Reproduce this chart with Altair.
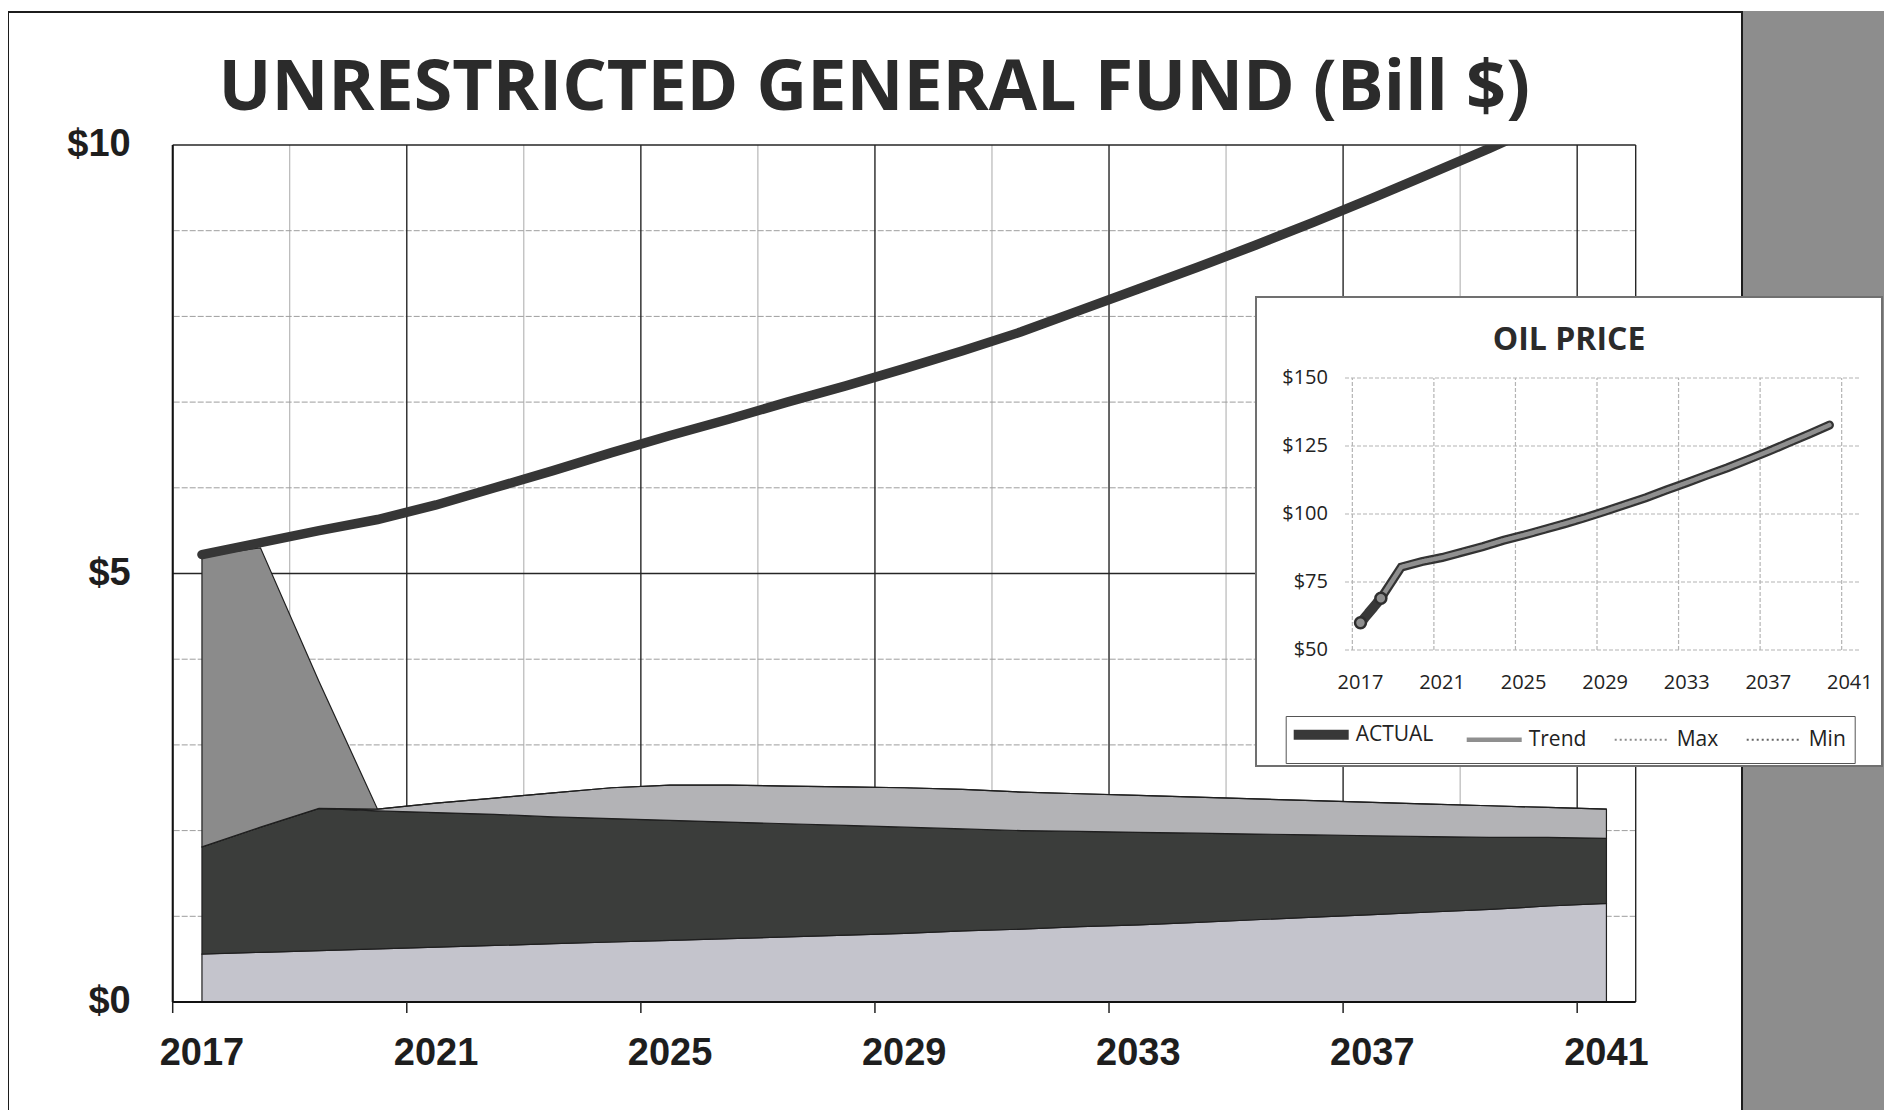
import altair as alt
import pandas as pd

# ---------------- data ----------------
years = [2017, 2018, 2019, 2020, 2021, 2022, 2023, 2024, 2025, 2026, 2027, 2028, 2029,
         2030, 2031, 2032, 2033, 2034, 2035, 2036, 2037, 2038, 2039, 2040, 2041]

# stacked bands (Bill $), bottom to top
band_base = [0.56, 0.58, 0.60, 0.62, 0.64, 0.66, 0.68, 0.70, 0.72, 0.74, 0.76, 0.78, 0.80,
             0.83, 0.85, 0.88, 0.90, 0.93, 0.96, 0.99, 1.02, 1.05, 1.08, 1.12, 1.15]
band_core = [1.25, 1.46, 1.66, 1.61, 1.57, 1.53, 1.48, 1.44, 1.40, 1.36, 1.32, 1.28, 1.24,
             1.19, 1.15, 1.11, 1.08, 1.04, 1.00, 0.96, 0.92, 0.88, 0.84, 0.80, 0.76]
band_upper = [0.00, 0.00, 0.00, 0.02, 0.11, 0.19, 0.28, 0.36, 0.41, 0.43, 0.44, 0.45, 0.46,
              0.46, 0.45, 0.44, 0.43, 0.42, 0.41, 0.40, 0.39, 0.38, 0.37, 0.35, 0.34]
band_early = [3.39, 3.26, 1.48, 0.00, 0.00, 0.00, 0.00, 0.00, 0.00, 0.00, 0.00, 0.00, 0.00,
              0.00, 0.00, 0.00, 0.00, 0.00, 0.00, 0.00, 0.00, 0.00, 0.00, 0.00, 0.00]
band_names = ["Band 1", "Band 2", "Band 3", "Band 4"]
band_colors = ["#c4c4cc", "#3b3d3b", "#b3b3b6", "#8b8b8b"]

# total line (Bill $)
total_line = [5.22, 5.36, 5.50, 5.63, 5.80, 6.00, 6.20, 6.41, 6.61, 6.80, 7.00, 7.19, 7.39,
              7.60, 7.82, 8.07, 8.32, 8.57, 8.83, 9.10, 9.38, 9.67, 9.96, 10.27, 10.58]

main_title = "UNRESTRICTED GENERAL FUND (Bill $)"
x_label_years = [2017, 2021, 2025, 2029, 2033, 2037, 2041]
y_label_values = [0, 5, 10]

# inset: oil price
inset_title = "OIL PRICE"
oil_actual_years = [2017, 2018]
oil_actual = [60, 69]
oil_trend_years = [2018, 2019, 2020, 2021, 2022, 2023, 2024, 2025, 2026, 2027, 2028, 2029,
                   2030, 2031, 2032, 2033, 2034, 2035, 2036, 2037, 2038, 2039, 2040]
oil_trend = [69, 80.5, 82.5, 84, 86, 88, 90.3, 92.2, 94.3, 96.4, 98.6, 101,
             103.5, 106, 108.8, 111.5, 114.3, 117, 120, 123, 126.2, 129.4, 132.7]
oil_series = ["ACTUAL", "Trend", "Max", "Min"]
oil_colors = ["#383838", "#8f8f8f", "#8a8a8a", "#666666"]
oil_dashes = [[1, 0], [1, 0], [2, 3], [2, 3]]
oil_widths = [10, 4.5, 2, 2]
inset_x_labels = [2017, 2021, 2025, 2029, 2033, 2037, 2041]
inset_y_labels = [50, 75, 100, 125, 150]

# ---------------- tables ----------------
rows = []
for order, (name, vals) in enumerate(zip(band_names, [band_base, band_core, band_upper, band_early])):
    for yr, v in zip(years, vals):
        rows.append({"year": yr, "band": name, "value": v, "order": order})
bands_df = pd.DataFrame(rows)
line_df = pd.DataFrame({"year": years, "total": total_line})
oil_df = pd.concat([
    pd.DataFrame({"year": oil_actual_years, "price": oil_actual, "series": "ACTUAL"}),
    pd.DataFrame({"year": oil_trend_years, "price": oil_trend, "series": "Trend"}),
], ignore_index=True)
one = pd.DataFrame({"k": [0]})

# grid / tick positions (category boundaries: every 2 years, darker every 4)
vgrid_major = [2016.5, 2020.5, 2024.5, 2028.5, 2032.5, 2036.5, 2040.5, 2041.5]
vgrid_minor = [2018.5, 2022.5, 2026.5, 2030.5, 2034.5, 2038.5]
hgrid_major = [5, 10]
hgrid_minor = [1, 2, 3, 4, 6, 7, 8, 9]
x_ticks = [v - 0.5 for v in x_label_years]
inset_vgrid = [v - 0.4 for v in inset_x_labels]

# ---------------- layout ----------------
W, H = 1463, 857
LABEL_FONT = "Liberation Sans"
INSET_FONT = "Open Sans"

main_x = alt.Scale(domain=[2016.5, 2041.5], nice=False, zero=False)
main_y = alt.Scale(domain=[0, 10], nice=False)
inset_x = alt.Scale(domain=[2016.24, 2041.45], range=[1172.3, 1686.3], nice=False, zero=False)
inset_y = alt.Scale(domain=[50, 150], range=[505, 233], nice=False, zero=False)
INSET_LEFT, INSET_BOTTOM = 1172.3, 505

# ---------------- main chart ----------------
surround = alt.Chart(one).mark_rect(fill="#8d8d8d").encode(
    x=alt.value(1569.3), x2=alt.value(1720), y=alt.value(-134), y2=alt.value(1000))
page_edge = alt.Chart(one).mark_rect(fill=None, stroke="#1c1c1c", strokeWidth=2).encode(
    x=alt.value(-164.7), x2=alt.value(1569.3), y=alt.value(-133), y2=alt.value(967))

vminor = alt.Chart(pd.DataFrame({"gx": vgrid_minor})).mark_rule(color="#a9a9a9", strokeWidth=1).encode(
    x=alt.X("gx:Q", scale=main_x, axis=None))
hminor = alt.Chart(pd.DataFrame({"gy": hgrid_minor})).mark_rule(
    color="#9d9d9d", strokeWidth=1, strokeDash=[6, 2]).encode(
    y=alt.Y("gy:Q", scale=main_y, axis=None))
vmajor = alt.Chart(pd.DataFrame({"gx": vgrid_major})).mark_rule(color="#262626", strokeWidth=1.4).encode(
    x=alt.X("gx:Q", scale=main_x, axis=None))
hmajor = alt.Chart(pd.DataFrame({"gy": hgrid_major})).mark_rule(color="#262626", strokeWidth=1.4).encode(
    y=alt.Y("gy:Q", scale=main_y, axis=None))

areas = alt.Chart(bands_df).mark_area(stroke="#1f1f1f", strokeWidth=1.2, opacity=1).encode(
    x=alt.X("year:Q", scale=main_x, axis=None),
    y=alt.Y("value:Q", stack="zero", scale=main_y, axis=None),
    fill=alt.Fill("band:N", scale=alt.Scale(domain=band_names, range=band_colors), legend=None),
    order=alt.Order("order:Q"),
)

# axis lines, ticks and tick labels
x_domain = alt.Chart(pd.DataFrame({"gy": [0]})).mark_rule(color="#111111", strokeWidth=2.2).encode(
    y=alt.Y("gy:Q", scale=main_y, axis=None))
y_domain = alt.Chart(pd.DataFrame({"gx": [2016.5]})).mark_rule(color="#111111", strokeWidth=2).encode(
    x=alt.X("gx:Q", scale=main_x, axis=None))
x_tick_marks = alt.Chart(pd.DataFrame({"t": x_ticks})).mark_rule(color="#222222", strokeWidth=1.5).encode(
    x=alt.X("t:Q", scale=main_x, axis=None), y=alt.value(H), y2=alt.value(H + 11))
x_tick_labels = alt.Chart(pd.DataFrame({"yr": x_label_years})).mark_text(
    font=LABEL_FONT, fontWeight="bold", fontSize=38, color="#1e1e1e", baseline="top", align="center").encode(
    x=alt.X("yr:Q", scale=main_x, axis=None), y=alt.value(H + 33), text=alt.Text("yr:Q", format="d"))
y_tick_labels = alt.Chart(pd.DataFrame({"v": y_label_values})).transform_calculate(
    lbl="'$' + datum.v").mark_text(
    font=LABEL_FONT, fontWeight="bold", fontSize=38, color="#1e1e1e", baseline="middle", align="right").encode(
    y=alt.Y("v:Q", scale=main_y, axis=None), x=alt.value(-42), text="lbl:N")

total = alt.Chart(line_df).mark_line(color="#363636", strokeWidth=9.5, strokeCap="round", clip=True).encode(
    x=alt.X("year:Q", scale=main_x, axis=None),
    y=alt.Y("total:Q", scale=main_y, axis=None),
)

main = alt.layer(surround, page_edge, vminor, hminor, vmajor, hmajor, areas,
                 x_domain, y_domain, x_tick_marks, x_tick_labels, y_tick_labels, total)

# ---------------- inset chart ----------------
box = alt.Chart(one).mark_rect(fill="white", stroke="#707070", strokeWidth=2).encode(
    x=alt.value(1083.3), x2=alt.value(1709.3), y=alt.value(152), y2=alt.value(621))
ititle = alt.Chart(one).mark_text(text=inset_title, font=INSET_FONT, fontSize=32, fontWeight="bold",
                                  color="#2b2b2b", baseline="alphabetic", align="center").encode(
    x=alt.value(1396.3), y=alt.value(204.5))

ivgrid = alt.Chart(pd.DataFrame({"gx": inset_vgrid})).mark_rule(
    color="#b4b4b4", strokeWidth=1.2, strokeDash=[4, 2]).encode(
    x=alt.X("gx:Q", scale=inset_x, axis=None),
    y=alt.YDatum(50, axis=None), y2=alt.Y2Datum(150))
ihgrid = alt.Chart(pd.DataFrame({"gy": inset_y_labels})).mark_rule(
    color="#b4b4b4", strokeWidth=1.2, strokeDash=[4, 2]).encode(
    y=alt.Y("gy:Q", scale=inset_y, axis=None),
    x=alt.XDatum(2016.24, axis=None), x2=alt.X2Datum(2041.45))

ix_labels = alt.Chart(pd.DataFrame({"yr": inset_x_labels})).mark_text(
    font=INSET_FONT, fontSize=20, color="#222222", baseline="top", align="center").encode(
    x=alt.X("yr:Q", scale=inset_x, axis=None), y=alt.value(INSET_BOTTOM + 23),
    text=alt.Text("yr:Q", format="d"))
iy_labels = alt.Chart(pd.DataFrame({"v": inset_y_labels})).transform_calculate(
    lbl="'$' + datum.v").mark_text(
    font=INSET_FONT, fontSize=20, color="#222222", baseline="middle", align="right").encode(
    y=alt.Y("v:Q", scale=inset_y, axis=None), x=alt.value(INSET_LEFT - 17), text="lbl:N")

series_legend = alt.Legend(title=None, orient="none", legendX=1113, legendY=571,
                           direction="horizontal", symbolType="M-5.5,0H5.5", symbolSize=100,
                           symbolOffset=17, labelOffset=24, columnPadding=24, padding=8,
                           labelFont=INSET_FONT, labelFontSize=21, labelColor="#222222",
                           strokeColor="#555555", fillColor="white", zindex=1)
color_enc = alt.Color("series:N", scale=alt.Scale(domain=oil_series, range=oil_colors), legend=series_legend)
dash_enc = alt.StrokeDash("series:N", scale=alt.Scale(domain=oil_series, range=oil_dashes), legend=series_legend)
width_enc = alt.StrokeWidth("series:N", scale=alt.Scale(type="ordinal", domain=oil_series, range=oil_widths),
                            legend=series_legend)

oil_base = alt.Chart(oil_df)
trend_outline = oil_base.transform_filter("datum.series == 'Trend'").mark_line(
    color="#333333", strokeWidth=9, strokeCap="round").encode(
    x=alt.X("year:Q", scale=inset_x, axis=None),
    y=alt.Y("price:Q", scale=inset_y, axis=None),
)
trend_inner = oil_base.transform_filter("datum.series == 'Trend'").mark_line(strokeCap="round").encode(
    x=alt.X("year:Q", scale=inset_x, axis=None),
    y=alt.Y("price:Q", scale=inset_y, axis=None),
    color=color_enc, strokeDash=dash_enc, strokeWidth=width_enc,
)
actual_line = oil_base.transform_filter("datum.series == 'ACTUAL'").mark_line(strokeCap="round").encode(
    x=alt.X("year:Q", scale=inset_x, axis=None),
    y=alt.Y("price:Q", scale=inset_y, axis=None),
    color=color_enc, strokeDash=dash_enc, strokeWidth=width_enc,
)
actual_pts = oil_base.transform_filter("datum.series == 'ACTUAL'").mark_point(
    filled=True, fill="#8e8e8e", stroke="#2f2f2f", strokeWidth=2.5, size=120, opacity=1).encode(
    x=alt.X("year:Q", scale=inset_x, axis=None),
    y=alt.Y("price:Q", scale=inset_y, axis=None),
)

inset = alt.layer(box, ititle, ivgrid, ihgrid, ix_labels, iy_labels,
                  trend_outline, trend_inner, actual_line, actual_pts)

chart = alt.layer(main, inset).resolve_scale(
    x="independent", y="independent"
).properties(
    width=W, height=H,
    title=alt.TitleParams(text=main_title, font="Open Sans", fontSize=70, fontWeight="bold",
                          color="#2b2b2b", anchor="middle", frame="group", dx=-30, offset=-169,
                          baseline="alphabetic"),
    autosize=alt.AutoSizeParams(type="none"),
    padding={"left": 164.7, "top": 137, "right": 248.3, "bottom": 108},
).configure(
    background="white",
    style={"guide-label": {"fontSize": 21, "font": INSET_FONT}},
).configure_view(strokeWidth=0)

chart.save("out.html", embed_options={"renderer": "svg", "actions": False})
